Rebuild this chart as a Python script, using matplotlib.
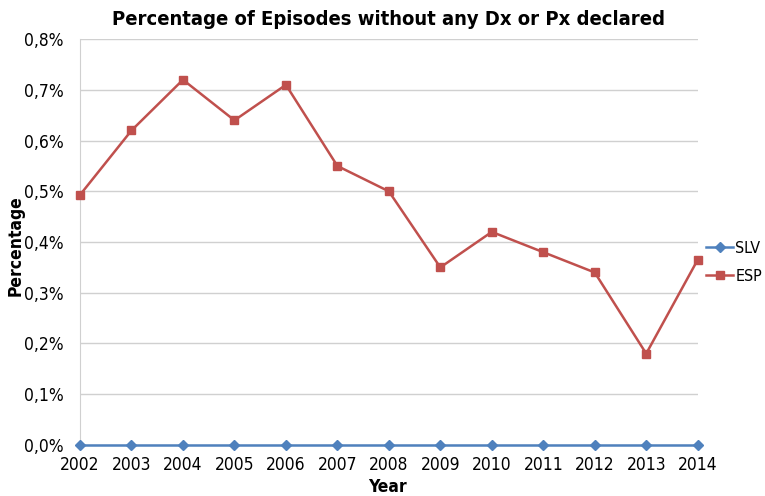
import matplotlib.pyplot as plt
from matplotlib.ticker import FuncFormatter

years = [2002, 2003, 2004, 2005, 2006, 2007, 2008, 2009, 2010, 2011, 2012, 2013, 2014]
slv = [0.0] * 13
esp = [0.493, 0.62, 0.72, 0.64, 0.71, 0.55, 0.50, 0.35, 0.42, 0.38, 0.34, 0.18, 0.365]

plt.rcParams['font.family'] = ['DejaVu Sans']
plt.rcParams['font.stretch'] = 'condensed'

fig = plt.figure(figsize=(7.65, 4.96), dpi=100)
ax = fig.add_axes([0.1046, 0.103, 0.8074, 0.818])

ax.plot(years, slv, color='#4F81BD', marker='D', markersize=5, linewidth=1.8, label='SLV', zorder=3)
ax.plot(years, esp, color='#C0504D', marker='s', markersize=6, linewidth=1.8, label='ESP', zorder=3)

ax.set_xlim(2002, 2014)
ax.set_ylim(0, 0.8)
ax.set_xticks(years)
ax.set_yticks([i / 10 for i in range(9)])
ax.yaxis.set_major_formatter(FuncFormatter(lambda v, p: f'{v:.1f}%'.replace('.', ',')))
ax.tick_params(length=0, labelsize=12.5)
ax.tick_params(axis='x', pad=8)
ax.tick_params(axis='y', pad=12)
ax.grid(axis='y', color='#D0D0D0', linewidth=1)
ax.set_axisbelow(True)
for s in ['top', 'right', 'bottom']:
    ax.spines[s].set_visible(False)
ax.spines['left'].set_color('#D0D0D0')
for ln in ax.lines:
    ln.set_clip_on(False)

ax.set_title('Percentage of Episodes without any Dx or Px declared', fontsize=14.5, fontweight='bold', pad=10)
# axis titles placed in figure coordinates
fig.text(0.021, 0.505, 'Percentage', rotation=90, fontsize=12.5, fontweight='bold',
         ha='center', va='center')
fig.text(0.507, 0.0, 'Year', fontsize=12.5, fontweight='bold', ha='center', va='bottom')

ax.legend(loc='center left', bbox_to_anchor=(0.993, 0.45), frameon=False, fontsize=11.5,
          handlelength=1.7, handletextpad=0.12, labelspacing=0.8, borderaxespad=0.4)

fig.savefig('out.png', dpi=100)
